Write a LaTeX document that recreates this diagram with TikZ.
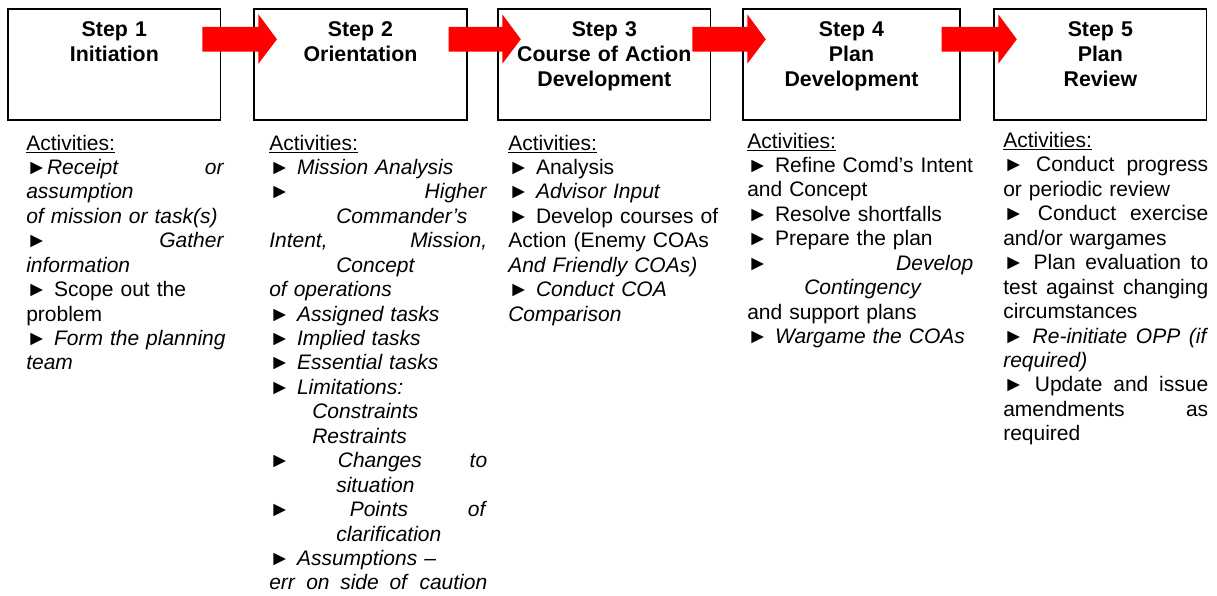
\documentclass[tikz,border=0pt]{standalone}
\usepackage{fontspec}
\setmainfont{Liberation Sans}
\usepackage{tikz}

\begin{document}
\begin{tikzpicture}[x=7.5pt,y=7.5pt,
    stepbox/.style={draw=black,line width=1.1pt,minimum width=159.5pt,minimum height=83.25pt},
    steptitle/.style={anchor=base,text width=155pt,align=center,font=\fontsize{16pt}{18.75pt}\selectfont\bfseries},
    activity/.style={anchor=base west,align=left,font=\fontsize{15.75pt}{18.33pt}\selectfont},
    blockarrow/.style={fill=red}]
            \tikzstyle{every node}+=[inner sep=0pt]
            \useasboundingbox (0,0) rectangle (121.7,-59.6);
            \node [stepbox] (s1) at (11.435,-6.45) {};
            \node [stepbox] (s2) at (36.05,-6.45) {};
            \node [stepbox] (s3) at (60.435,-6.45) {};
            \node [stepbox,minimum width=162.75pt] (s4) at (85.15,-6.45) {};
            \node [stepbox] (s5) at (110.035,-6.45) {};
            \node [steptitle] (t1) at ([yshift=-21.5pt]s1.north) {Step 1\\Initiation};
            \node [steptitle] (t2) at ([yshift=-21.5pt]s2.north) {Step 2\\Orientation};
            \node [steptitle] (t3) at ([yshift=-21.5pt]s3.north) {Step 3\\Course of Action\\Development};
            \node [steptitle] (t4) at ([yshift=-21.5pt]s4.north) {Step 4\\Plan\\Development};
            \node [steptitle] (t5) at ([yshift=-21.5pt]s5.north) {Step 5\\Plan\\Review};
            \foreach \a/\b in {s1/s2,s2/s3,s3/s4,s4/s5}
                \fill [blockarrow] ([shift={(-1.9,-1.87)}]\a.north east) -- ([shift={(0.5,-1.87)}]\b.north west)
                    -- ([shift={(0.5,-0.6)}]\b.north west) -- ([shift={(2.35,-3.1)}]\b.north west)
                    -- ([shift={(0.5,-5.55)}]\b.north west) -- ([shift={(0.5,-4.33)}]\b.north west)
                    -- ([shift={(-1.9,-4.33)}]\a.north east) -- cycle;
            \node [activity,text width=148.5pt] (a1) at (2.6,-15.0) {\underline{Activities:}\\
                ►\textit{Receipt}\hfill\textit{or}\\
                \textit{assumption}\\
                \textit{of mission or task(s)}\\
                ►\hfill\textit{Gather}\\
                \textit{information}\\
                ► Scope out the\\
                problem\\
                \mbox{► \textit{Form the planning}}\\
                \textit{team}};
            \node [activity,text width=163.5pt] (a2) at (26.9,-15.0) {\underline{Activities:}\\
                ► \textit{Mission Analysis}\\
                ►\hfill\textit{Higher}\\
                \hspace*{50.25pt}\textit{Commander’s}\\
                \textit{Intent,}\hfill\textit{Mission,}\\
                \hspace*{50.25pt}\textit{Concept}\\
                \textit{of operations}\\
                ► \textit{Assigned tasks}\\
                ► \textit{Implied tasks}\\
                ► \textit{Essential tasks}\\
                ► \textit{Limitations:}\\
                \hspace*{32.25pt}\textit{Constraints}\\
                \hspace*{32.25pt}\textit{Restraints}\\
                ►\hfill\textit{Changes}\hfill\textit{to}\\
                \hspace*{50.25pt}\textit{situation}\\
                ►\hfill\textit{Points}\hfill\textit{of}\\
                \hspace*{50.25pt}\textit{clarification}\\
                ► \textit{Assumptions –}\\
                \textit{err}\hfill\textit{on}\hfill\textit{side}\hfill\textit{of}\hfill\textit{caution}};
            \node [activity,text width=162.75pt] (a3) at (50.8,-15.0) {\underline{Activities:}\\
                ► Analysis\\
                ► \textit{Advisor Input}\\
                ► Develop courses of\\
                Action (Enemy COAs\\
                \textit{And Friendly COAs)}\\
                ► \textit{Conduct COA}\\
                \textit{Comparison}};
            \node [activity,text width=169.5pt] (a4) at (74.7,-14.8) {\underline{Activities:}\\
                ► Refine Comd’s Intent\\
                and Concept\\
                ► Resolve shortfalls\\
                ► Prepare the plan\\
                ►\hfill\textit{Develop}\\
                \hspace*{42.75pt}\textit{Contingency}\\
                and support plans\\
                ► \textit{Wargame the COAs}};
            \node [activity,text width=153.75pt] (a5) at (100.3,-14.75) {\underline{Activities:}\\
                ►\hfill Conduct\hfill progress\\
                or periodic review\\
                ►\hfill Conduct\hfill exercise\\
                and/or wargames\\
                ►\hfill Plan\hfill evaluation\hfill to\\
                test\hfill against\hfill changing\\
                circumstances\\
                ►\hfill\textit{Re-initiate}\hfill\textit{OPP}\hfill\textit{(if}\\
                \textit{required)}\\
                ►\hfill Update\hfill and\hfill issue\\
                amendments\hfill as\\
                required};
        \end{tikzpicture}
\end{document}
